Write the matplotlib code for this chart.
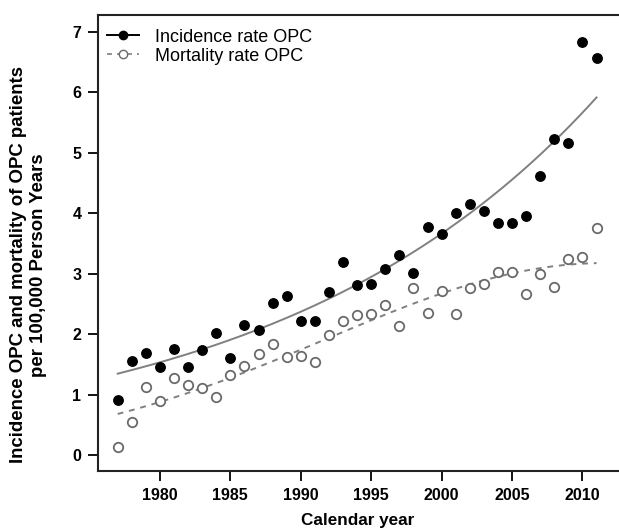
import numpy as np
import matplotlib
matplotlib.use("Agg")
import matplotlib.pyplot as plt

plt.rcParams['font.family'] = ['Liberation Sans', 'DejaVu Sans']

# calendar years
years = np.arange(1977, 2012)

# incidence rate OPC per 100,000 person years
incidence = [0.91, 1.56, 1.68, 1.46, 1.75, 1.45, 1.74, 2.02, 1.61, 2.15,
             2.07, 2.52, 2.63, 2.22, 2.22, 2.70, 3.20, 2.82, 2.83, 3.07,
             3.31, 3.01, 3.77, 3.66, 4.00, 4.15, 4.04, 3.83, 3.83, 3.96,
             4.61, 5.23, 5.16, 6.84, 6.56]

# mortality rate OPC per 100,000 person years
mortality = [0.14, 0.54, 1.12, 0.89, 1.28, 1.15, 1.10, 0.96, 1.32, 1.48,
             1.67, 1.83, 1.62, 1.64, 1.54, 1.98, 2.21, 2.32, 2.34, 2.48,
             2.13, 2.76, 2.35, 2.71, 2.34, 2.76, 2.83, 3.03, 3.03, 2.67,
             3.00, 2.78, 3.24, 3.28, 3.75]

xticks = [1980, 1985, 1990, 1995, 2000, 2005, 2010]
yticks = [0, 1, 2, 3, 4, 5, 6, 7]


def poisson_fit(x, y, deg):
    # log-link poisson regression by IRLS, returns fitted function
    t = (np.asarray(x, float) - 1994) / 10
    y = np.asarray(y, float)
    X = np.vander(t, deg + 1)
    beta = np.linalg.lstsq(X, np.log(np.maximum(y, 0.05)), rcond=None)[0]
    for _ in range(50):
        mu = np.exp(X @ beta)
        z = X @ beta + (y - mu) / mu
        W = np.sqrt(mu)
        beta = np.linalg.lstsq(X * W[:, None], z * W, rcond=None)[0]
    return lambda xx: np.exp(np.vander((np.asarray(xx) - 1994) / 10, deg + 1) @ beta)


xs = np.linspace(1977, 2011, 200)
fit_inc = poisson_fit(years, incidence, 1)
fit_mor = poisson_fit(years, mortality, 2)

fig = plt.figure(figsize=(6.19, 5.31), dpi=100)
ax = fig.add_axes([0.1583, 0.113, 0.86, 0.8588])

ax.plot(xs, fit_inc(xs), '-', color='#808080', lw=1.4)
ax.plot(xs, fit_mor(xs), '--', color='#808080', lw=1.4, dashes=(3, 3))
ax.plot(years, incidence, 'o', color='black', ms=6.8, zorder=3)
ax.plot(years, mortality, 'o', mfc='white', mec='#6a6a6a', mew=1.3, ms=6.8, zorder=3)

# legend handles
ax.plot([], [], '-o', color='black', mec='black', ms=6, lw=1.4,
        label='Incidence rate OPC')
ax.plot([], [], '--o', color='#808080', mfc='white', mec='#6a6a6a', ms=6,
        lw=1.2, dashes=(3, 3), label='Mortality rate OPC')
h, l = ax.get_legend_handles_labels()
ax.legend(h, l, loc='upper left', frameon=False, fontsize=13,
          handlelength=1.75, handletextpad=0.9, borderaxespad=0.1,
          labelspacing=0.12, bbox_to_anchor=(0.0, 0.99))

ax.set_xlim(1975.6, 2013.4)
ax.set_ylim(-0.265, 7.28)
ax.set_xticks(xticks)
ax.set_yticks(yticks)
ax.spines['right'].set_visible(False)
for s in ['left', 'bottom', 'top']:
    ax.spines[s].set_linewidth(1.5)
    ax.spines[s].set_color('#222222')
ax.tick_params(direction='out', length=7, width=1.3, labelsize=11.5, pad=5)
for t in ax.get_xticklabels() + ax.get_yticklabels():
    t.set_fontweight('bold')

ax.set_xlabel('Calendar year', fontsize=12.3, fontweight='bold')
ax.xaxis.set_label_coords(0.487, -0.092)
ax.set_ylabel('Incidence OPC and mortality of OPC patients\nper 100,000 Person Years',
              fontsize=13.4, fontweight='bold', linespacing=1.3)
ax.yaxis.set_label_coords(-0.095, 0.452)

fig.savefig('out.png', dpi=100)
